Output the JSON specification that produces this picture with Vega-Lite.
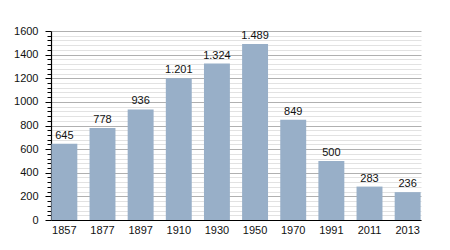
{
  "$schema": "https://vega.github.io/schema/vega-lite/v6.json",
  "width": 370,
  "height": 189,
  "autosize": {"type": "none"},
  "padding": {"left": 51, "top": 31, "right": 29, "bottom": 30},
  "background": "white",
  "config": {
    "view": {"stroke": null},
    "locale": {"number": {"decimal": ",", "thousands": ".", "grouping": [3], "currency": ["", ""]}},
    "font": "Liberation Sans"
  },
  "data": {
    "values": [
      {"year": "1857", "pop": 645},
      {"year": "1877", "pop": 778},
      {"year": "1897", "pop": 936},
      {"year": "1910", "pop": 1201},
      {"year": "1930", "pop": 1324},
      {"year": "1950", "pop": 1489},
      {"year": "1970", "pop": 849},
      {"year": "1991", "pop": 500},
      {"year": "2011", "pop": 283},
      {"year": "2013", "pop": 236}
    ]
  },
  "encoding": {
    "x": {
      "field": "year", "type": "ordinal", "sort": null,
      "scale": {"paddingInner": 0.32, "paddingOuter": 0.01},
      "axis": {
        "title": null, "labelAngle": 0, "ticks": false, "domainColor": "#000", "domainWidth": 1.2,
        "labelFontSize": 11, "labelColor": "#111", "labelPadding": 4, "grid": false
      }
    },
    "y": {
      "field": "pop", "type": "quantitative",
      "scale": {"domain": [0, 1600], "nice": false},
      "axis": {
        "title": null,
        "values": [0,40,80,120,160,200,240,280,320,360,400,440,480,520,560,600,640,680,720,760,800,840,880,920,960,1000,1040,1080,1120,1160,1200,1240,1280,1320,1360,1400,1440,1480,1520,1560,1600],
        "labelExpr": "datum.value % 200 === 0 ? format(datum.value, 'd') : ''",
        "grid": true,
        "gridColor": {"condition": {"test": "datum.value % 200 === 0", "value": "#b0b0b0"}, "value": "#e2e2e2"},
        "gridWidth": 1,
        "tickColor": "#000",
        "tickSize": {"condition": {"test": "datum.value % 200 === 0", "value": 6}, "value": 4},
        "domainColor": "#000", "domainWidth": 1.2,
        "labelFontSize": 11, "labelColor": "#111", "labelPadding": 7
      }
    }
  },
  "layer": [
    {"mark": {"type": "bar", "color": "#98afc8"}},
    {
      "mark": {"type": "text", "baseline": "alphabetic", "dy": -5, "fontSize": 11, "color": "#111"},
      "encoding": {"text": {"field": "pop", "type": "quantitative", "format": ",d"}}
    }
  ]
}
